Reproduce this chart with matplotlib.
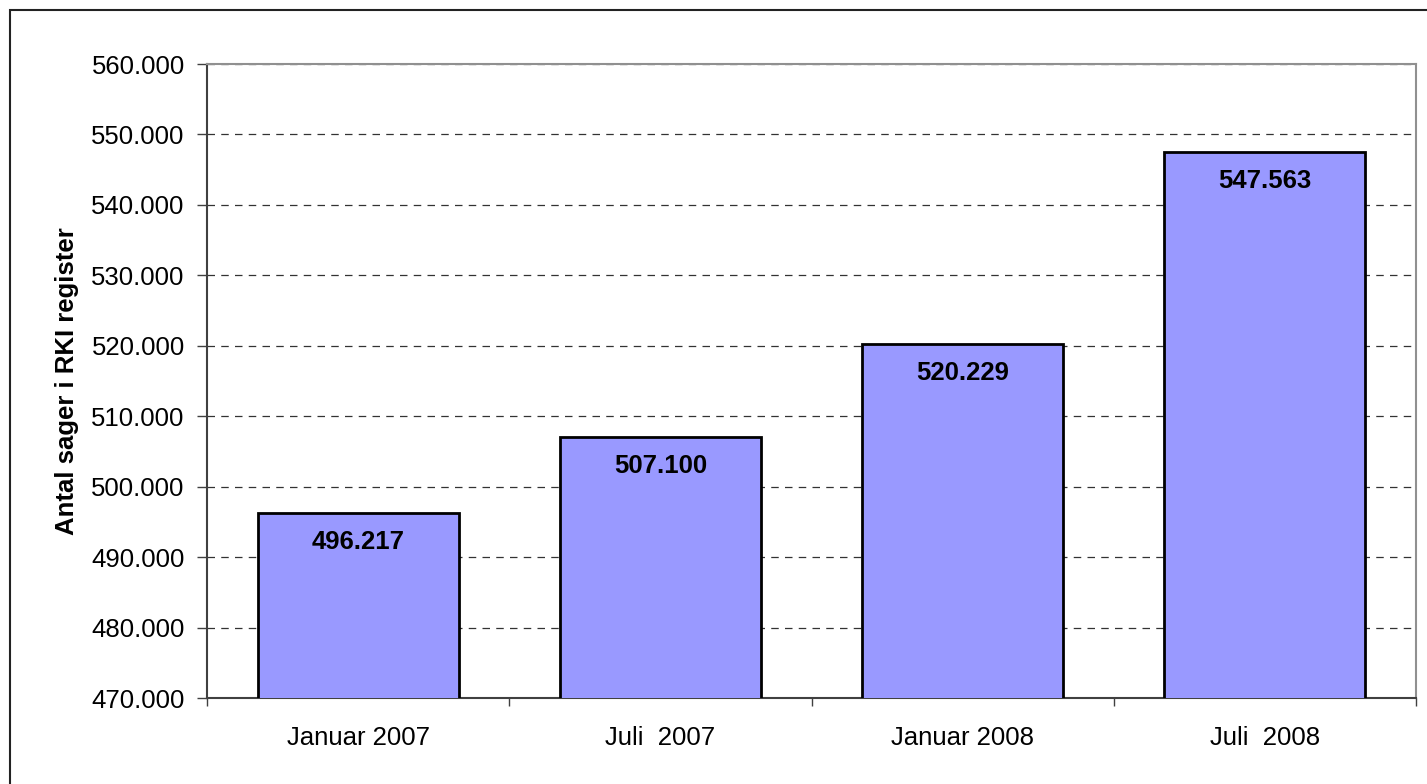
import matplotlib
matplotlib.use("Agg")
import matplotlib.pyplot as plt
from matplotlib.patches import Rectangle
from matplotlib.ticker import FuncFormatter, FixedLocator

# data
labels = ['Januar 2007', 'Juli  2007', 'Januar 2008', 'Juli  2008']
values = [496217, 507100, 520229, 547563]

plt.rcParams['font.family'] = ['Liberation Sans', 'DejaVu Sans']

fig = plt.figure(figsize=(14.27, 7.84), dpi=100)
ax = fig.add_axes([207/1427, 1 - 698/784, (1416 - 207)/1427, (698 - 64)/784])

# outer frame
fig.patches.append(Rectangle((10/1427, -0.1), 1.2, 1 - 10/784 + 0.1, transform=fig.transFigure,
                             fill=False, edgecolor='#222222', linewidth=1.5))

x = range(len(values))
bars = ax.bar(x, values, width=0.665, color='#9999ff', edgecolor='black', linewidth=2, zorder=3)

for xi, v in zip(x, values):
    txt = f"{v:,}".replace(',', '.')
    ax.annotate(txt, (xi, v), xytext=(0, -21), textcoords='offset points',
                ha='center', va='center', fontsize=18.5, fontweight='bold', zorder=4)

ax.set_xlim(-0.5, len(values) - 0.5)
ax.set_ylim(470000, 560000)
ax.set_yticks(range(470000, 560001, 10000))
ax.yaxis.set_major_formatter(FuncFormatter(lambda v, p: f"{int(v):,}".replace(',', '.')))
ax.set_xticks(list(x))
ax.set_xticklabels(labels)
ax.xaxis.set_minor_locator(FixedLocator([i - 0.5 for i in range(len(values) + 1)]))

ax.tick_params(axis='x', which='major', length=0, pad=20, labelsize=18.5)
ax.tick_params(axis='x', which='minor', length=6, width=1, color='#404040')
ax.tick_params(axis='y', length=7, width=1, color='#404040', pad=9, labelsize=18.5)

ax.yaxis.grid(True, linestyle=(0, (6, 5)), color='#333333', linewidth=0.9, zorder=0)
ax.set_axisbelow(True)

ax.spines['left'].set_color('#404040')
ax.spines['bottom'].set_color('#404040')
ax.spines['top'].set_color('#909090')
ax.spines['right'].set_color('#909090')
for s in ax.spines.values():
    s.set_linewidth(1.5)

ax.set_ylabel('Antal sager i RKI register', fontsize=18.5, fontweight='bold', labelpad=9)

fig.savefig('out.png', dpi=100)
